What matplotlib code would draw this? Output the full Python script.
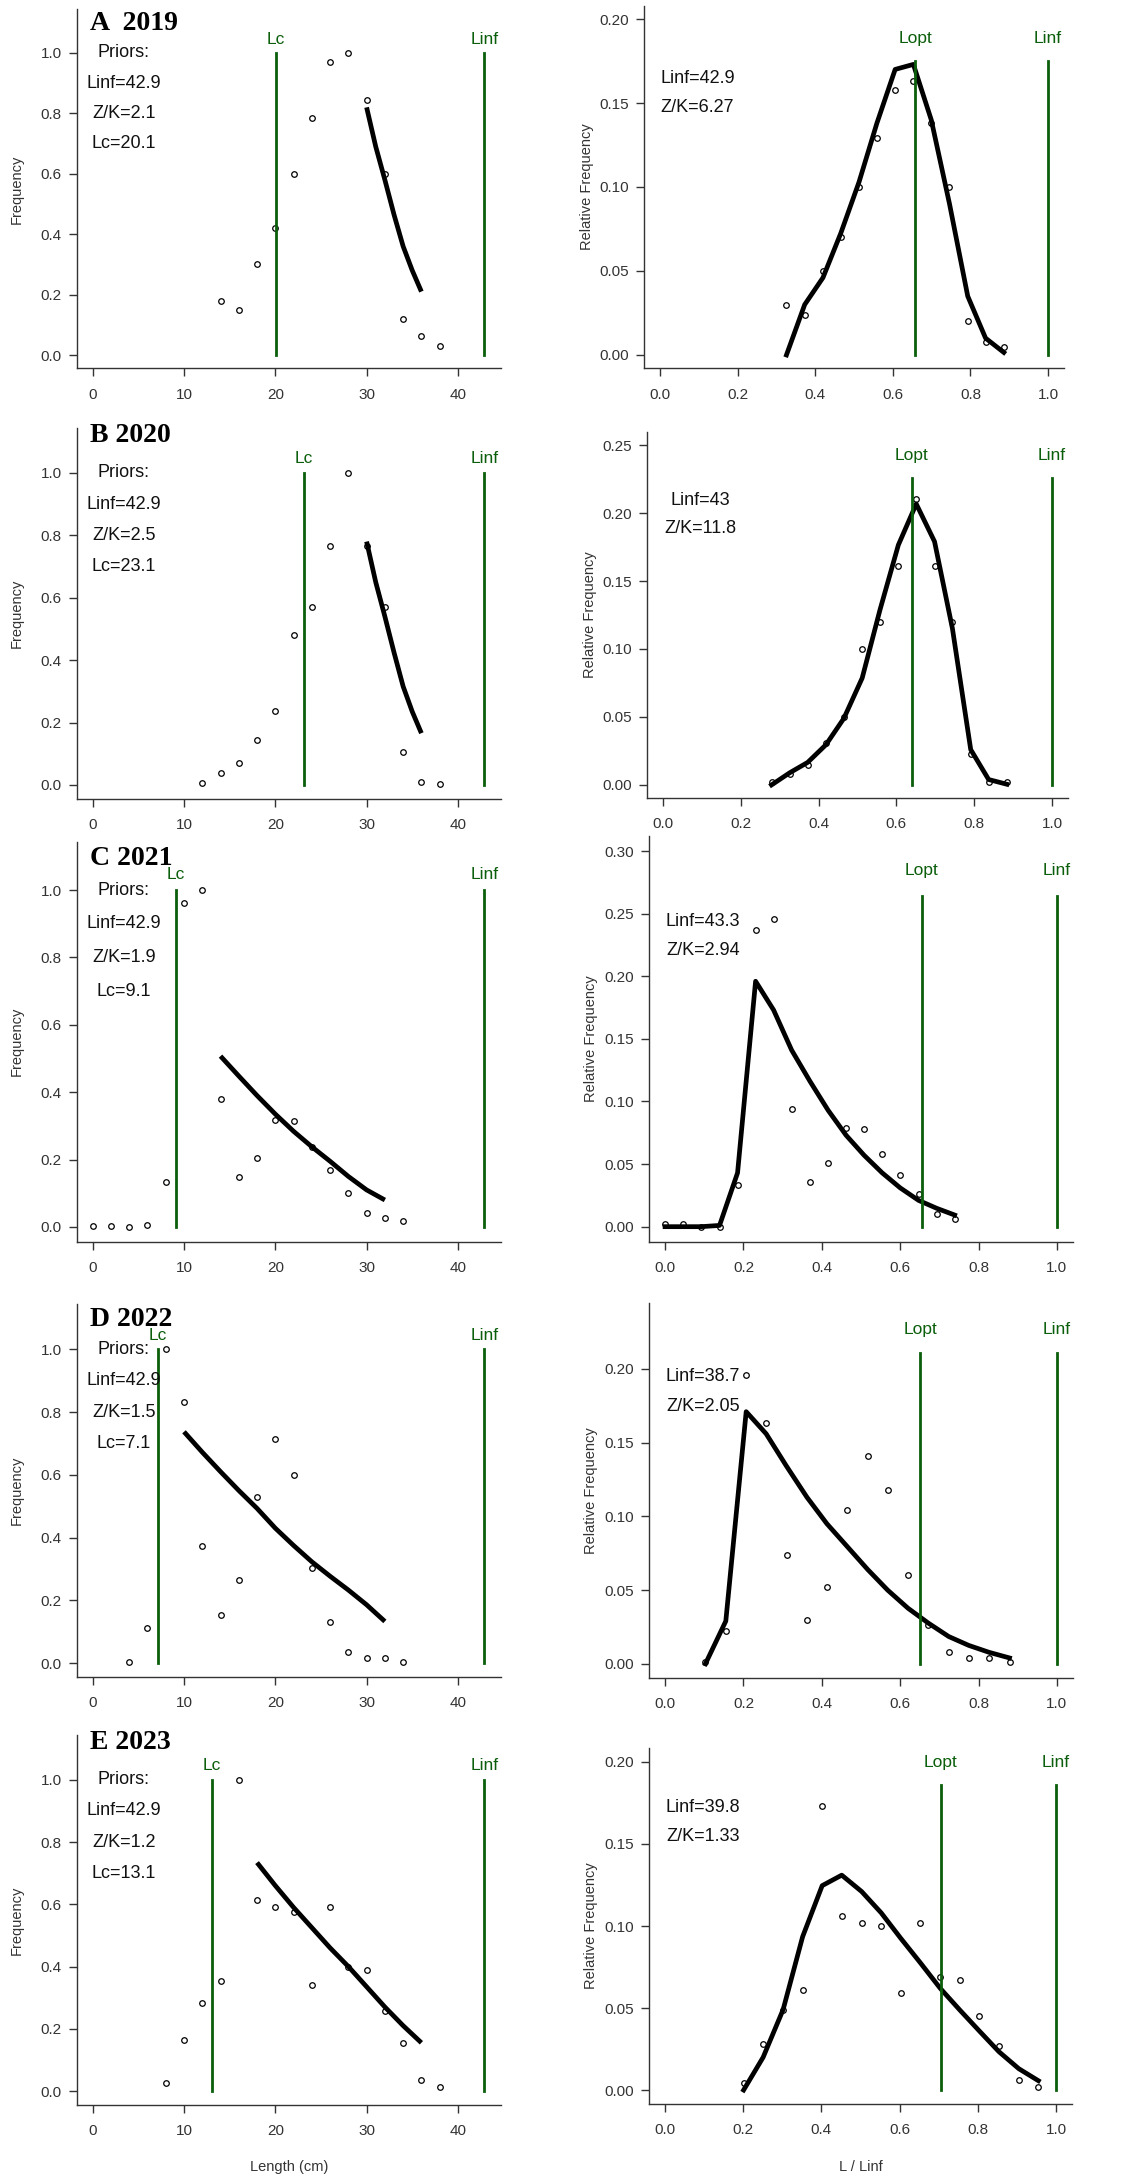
import numpy as np
import matplotlib
matplotlib.use('Agg')
import matplotlib.pyplot as plt

plt.rcParams['font.family'] = ['Liberation Sans', 'DejaVu Sans']

# ---- dane: panele lewe (czestosc wzgledem dlugosci) ----
len_A = [14, 16, 18, 20, 22, 24, 26, 28, 30, 32, 34, 36, 38]
freq_A = [0.18, 0.148, 0.30, 0.42, 0.60, 0.785, 0.97, 1.0, 0.845, 0.60, 0.12, 0.062, 0.03]
fitlen_A = [30, 31, 32, 33, 34, 35, 36]
fit_A = [0.82, 0.69, 0.58, 0.465, 0.36, 0.28, 0.21]

len_B = [12, 14, 16, 18, 20, 22, 24, 26, 28, 30, 32, 34, 36, 38]
freq_B = [0.005, 0.038, 0.072, 0.143, 0.237, 0.48, 0.57, 0.765, 1.0, 0.765, 0.57, 0.107, 0.008, 0.003]
fitlen_B = [30, 31, 32, 33, 34, 35, 36]
fit_B = [0.78, 0.65, 0.54, 0.425, 0.316, 0.235, 0.166]

len_C = [0, 2, 4, 6, 8, 10, 12, 14, 16, 18, 20, 22, 24, 26, 28, 30, 32, 34]
freq_C = [0.003, 0.003, 0.0, 0.006, 0.132, 0.961, 1.0, 0.379, 0.147, 0.205, 0.317, 0.315,
          0.238, 0.168, 0.102, 0.042, 0.027, 0.018]
fitlen_C = [14, 16, 18, 20, 22, 24, 26, 28, 30, 32]
fit_C = [0.507, 0.448, 0.39, 0.335, 0.284, 0.238, 0.195, 0.15, 0.11, 0.08]

len_D = [4, 6, 8, 10, 12, 14, 16, 18, 20, 22, 24, 26, 28, 30, 32, 34]
freq_D = [0.005, 0.113, 1.0, 0.832, 0.374, 0.153, 0.264, 0.529, 0.715, 0.598, 0.302, 0.131,
          0.035, 0.017, 0.017, 0.005]
fitlen_D = [10, 12, 14, 16, 18, 20, 22, 24, 26, 28, 30, 32]
fit_D = [0.737, 0.672, 0.61, 0.55, 0.493, 0.43, 0.375, 0.323, 0.277, 0.233, 0.186, 0.133]

len_E = [8, 10, 12, 14, 16, 18, 20, 22, 24, 26, 28, 30, 32, 34, 36, 38]
freq_E = [0.025, 0.165, 0.282, 0.352, 1.0, 0.614, 0.59, 0.576, 0.342, 0.59, 0.40, 0.388,
          0.258, 0.155, 0.036, 0.013]
fitlen_E = [18, 20, 22, 24, 26, 28, 30, 32, 34, 36]
fit_E = [0.734, 0.66, 0.59, 0.525, 0.46, 0.40, 0.335, 0.27, 0.21, 0.155]

# ---- dane: panele prawe (czestosc wzgledna wzgledem L/Linf) ----
relx_A = [0.326, 0.373, 0.420, 0.466, 0.513, 0.559, 0.606, 0.653, 0.699, 0.746, 0.793, 0.839, 0.886]
relf_A = [0.030, 0.024, 0.050, 0.070, 0.100, 0.129, 0.158, 0.163, 0.138, 0.100, 0.020, 0.008, 0.005]
relfit_A = [0.0, 0.030, 0.046, 0.0725, 0.103, 0.138, 0.170, 0.173, 0.140, 0.090, 0.035, 0.010, 0.0015]

relx_B = [0.279, 0.326, 0.372, 0.419, 0.465, 0.512, 0.558, 0.605, 0.651, 0.698, 0.744, 0.791, 0.837, 0.884]
relf_B = [0.002, 0.008, 0.015, 0.031, 0.050, 0.100, 0.120, 0.161, 0.210, 0.161, 0.120, 0.023, 0.002, 0.002]
relfit_B = [0.0, 0.009, 0.0166, 0.0296, 0.049, 0.0786, 0.129, 0.1765, 0.2067, 0.179, 0.115, 0.026, 0.004, 0.0005]

relx_C = [0.0, 0.046, 0.092, 0.139, 0.185, 0.231, 0.277, 0.323, 0.370, 0.416, 0.462, 0.508,
          0.554, 0.600, 0.647, 0.693, 0.739]
relf_C = [0.002, 0.002, 0.0, 0.0, 0.033, 0.237, 0.246, 0.094, 0.036, 0.051, 0.079, 0.078,
          0.058, 0.041, 0.026, 0.010, 0.006]
relfit_C = [0.0, 0.0, 0.0, 0.001, 0.043, 0.196, 0.173, 0.141, 0.116, 0.093, 0.073, 0.057,
            0.043, 0.031, 0.021, 0.0147, 0.0093]

relx_D = [0.103, 0.155, 0.207, 0.258, 0.310, 0.362, 0.413, 0.465, 0.517, 0.568, 0.620, 0.672,
          0.724, 0.775, 0.827, 0.879]
relf_D = [0.001, 0.022, 0.196, 0.163, 0.074, 0.030, 0.052, 0.104, 0.141, 0.118, 0.060, 0.026,
          0.008, 0.004, 0.004, 0.001]
relfit_D = [0.0, 0.029, 0.171, 0.156, 0.134, 0.113, 0.095, 0.0795, 0.064, 0.050, 0.0377, 0.0276,
            0.0185, 0.0125, 0.0078, 0.004]

relx_E = [0.201, 0.251, 0.302, 0.352, 0.402, 0.452, 0.503, 0.553, 0.603, 0.653, 0.704, 0.754,
          0.804, 0.854, 0.905, 0.955]
relf_E = [0.004, 0.028, 0.049, 0.061, 0.173, 0.106, 0.102, 0.100, 0.059, 0.102, 0.069, 0.067,
          0.045, 0.027, 0.006, 0.002]
relfit_E = [0.0, 0.020, 0.049, 0.0935, 0.1246, 0.131, 0.121, 0.108, 0.0925, 0.0776, 0.062, 0.0488,
            0.036, 0.0234, 0.013, 0.0057]

# ---- parametry ----
tytuly = ['A  2019', 'B 2020', 'C 2021', 'D 2022', 'E 2023']
prior_linf = ['42.9', '42.9', '42.9', '42.9', '42.9']
prior_zk = ['2.1', '2.5', '1.9', '1.5', '1.2']
prior_lc = [20.1, 23.1, 9.1, 7.1, 13.1]
linf_line = 42.9
est_linf = ['42.9', '43', '43.3', '38.7', '39.8']
est_zk = ['6.27', '11.8', '2.94', '2.05', '1.33']
lopt = [0.658, 0.64, 0.655, 0.651, 0.705]

lewe = [(len_A, freq_A, fitlen_A, fit_A), (len_B, freq_B, fitlen_B, fit_B),
        (len_C, freq_C, fitlen_C, fit_C), (len_D, freq_D, fitlen_D, fit_D),
        (len_E, freq_E, fitlen_E, fit_E)]
prawe = [(relx_A, relf_A, relfit_A), (relx_B, relf_B, relfit_B), (relx_C, relf_C, relfit_C),
         (relx_D, relf_D, relfit_D), (relx_E, relf_E, relfit_E)]

# ---- uklad (piksele) ----
W, H = 1122, 2184
lewe_box = [(77, 501, 9.5, 368.3), (77, 501, 428, 798.7), (77, 501, 841.5, 1241.8),
            (77, 501, 1304, 1677), (77, 501, 1735, 2104.7)]
prawe_box = [(644, 1064, 5.6, 368.4), (647, 1068, 432, 798), (649, 1073, 836, 1241.7),
             (649, 1073, 1303, 1677.7), (649, 1072, 1748, 2104)]
prawe_ylim = [(-0.008, 0.208), (-0.0096, 0.2596), (-0.012, 0.312), (-0.0094, 0.2447), (-0.0085, 0.2085)]
prawe_yticks = [np.arange(0, 0.201, 0.05), np.arange(0, 0.251, 0.05), np.arange(0, 0.301, 0.05),
                np.arange(0, 0.201, 0.05), np.arange(0, 0.201, 0.05)]
tekst_y = [(0.798, 0.718), (0.812, 0.735), (0.79, 0.717), (0.803, 0.723), (0.832, 0.751)]
tytul_y = [1.075, 1.098, 1.075, 1.075, 1.10]

ZIELONY = '#0b5e0b'
SZARY = '#333333'


def rect(b):
    x0, x1, top, bottom = b
    return [x0 / W, 1 - bottom / H, (x1 - x0) / W, (bottom - top) / H]


def styl(ax):
    for s in ['top', 'right']:
        ax.spines[s].set_visible(False)
    for s in ['left', 'bottom']:
        ax.spines[s].set_color(SZARY)
        ax.spines[s].set_linewidth(1.0)
    ax.tick_params(direction='out', length=6, width=1, color=SZARY, labelcolor=SZARY, labelsize=11)
    ax.tick_params(axis='x', pad=8)
    ax.tick_params(axis='y', pad=5)


fig = plt.figure(figsize=(W / 100, H / 100), dpi=100)

for i in range(5):
    # lewy panel
    dl, fr, fl, fv = lewe[i]
    ax = fig.add_axes(rect(lewe_box[i]))
    styl(ax)
    ax.plot(dl, fr, 'o', mfc='none', mec='black', ms=4, mew=0.9)
    ax.plot(fl, fv, color='black', lw=3.4, solid_capstyle='butt')
    for xv, nm in [(prior_lc[i], 'Lc'), (linf_line, 'Linf')]:
        ax.plot([xv, xv], [0, 1.0], color=ZIELONY, lw=2.0)
        ax.text(xv, 1.045, nm, color=ZIELONY, fontsize=12.5, ha='center', va='center')
    ax.set_xlim(-1.72, 44.72)
    ax.set_ylim(-0.044, 1.144)
    ax.set_xticks([0, 10, 20, 30, 40])
    ax.set_yticks(np.arange(0, 1.01, 0.2))
    ax.set_yticklabels(['%.1f' % v for v in np.arange(0, 1.01, 0.2)])
    ax.text(-0.3, tytul_y[i], tytuly[i], fontsize=20, fontweight='bold',
            family=['Liberation Serif', 'DejaVu Serif'], ha='left', va='baseline')
    for k, t in enumerate(['Priors:', 'Linf=' + prior_linf[i], 'Z/K=' + prior_zk[i],
                           'Lc=' + str(prior_lc[i])]):
        ax.text(3.4, 1.0 - 0.1 * k, t, fontsize=13, ha='center', va='center', color='#111111')
    ax.set_ylabel('Frequency', fontsize=10.5, color=SZARY, va='center')
    ax.yaxis.set_label_coords(-0.142, 0.5)
    if i == 4:
        ax.set_xlabel('Length (cm)', fontsize=10.5, color=SZARY, va='center')
        ax.xaxis.set_label_coords(0.5, -0.168)

    # prawy panel
    rx, rf, rfit = prawe[i]
    ax = fig.add_axes(rect(prawe_box[i]))
    styl(ax)
    ax.plot(rx, rf, 'o', mfc='none', mec='black', ms=4, mew=0.9)
    ax.plot(rx, rfit, color='black', lw=3.4, solid_joinstyle='round')
    gora = 1.075 * max(rf)
    for xv, nm in [(lopt[i], 'Lopt'), (1.0, 'Linf')]:
        ax.plot([xv, xv], [0, gora], color=ZIELONY, lw=2.0)
        ax.text(xv, gora * 1.075, nm, color=ZIELONY, fontsize=12.5, ha='center', va='center')
    ax.set_xlim(-0.041, 1.041)
    ax.set_ylim(*prawe_ylim[i])
    ax.set_xticks(np.arange(0, 1.01, 0.2))
    ax.set_xticklabels(['%.1f' % v for v in np.arange(0, 1.01, 0.2)])
    ax.set_yticks(prawe_yticks[i])
    ax.set_yticklabels(['%.2f' % v for v in prawe_yticks[i]])
    ax.text(0.097, tekst_y[i][0], 'Linf=' + est_linf[i], transform=ax.get_xaxis_transform(),
            fontsize=13, ha='center', va='center', color='#111111')
    ax.text(0.097, tekst_y[i][1], 'Z/K=' + est_zk[i], transform=ax.get_xaxis_transform(),
            fontsize=13, ha='center', va='center', color='#111111')
    ax.set_ylabel('Relative Frequency', fontsize=10.5, color=SZARY, va='center')
    ax.yaxis.set_label_coords(-0.136, 0.5)
    if i == 4:
        ax.set_xlabel('L / Linf', fontsize=10.5, color=SZARY, va='center')
        ax.xaxis.set_label_coords(0.5, -0.176)

fig.savefig('out.png', dpi=100, facecolor='white')
